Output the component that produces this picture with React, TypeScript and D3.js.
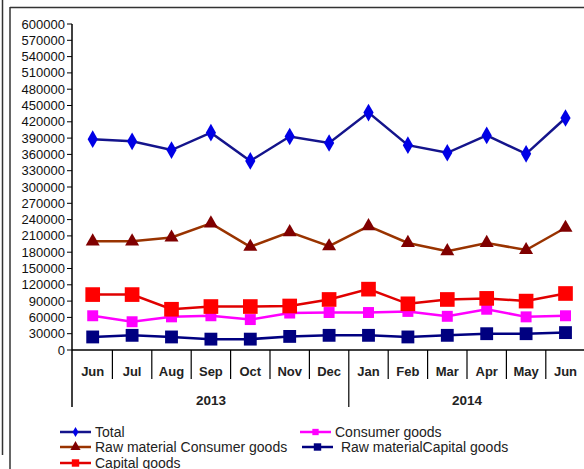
import React from 'react';
import { scaleBand, scaleLinear, line, range, symbol, symbolDiamond, symbolTriangle, symbolSquare } from 'd3';

const months = ['Jun', 'Jul', 'Aug', 'Sep', 'Oct', 'Nov', 'Dec', 'Jan', 'Feb', 'Mar', 'Apr', 'May', 'Jun'];
const years = [
  { label: '2013', from: 0, to: 6 },
  { label: '2014', from: 7, to: 12 },
];
const yTicks = range(0, 600001, 30000);

const total = [388000, 384000, 368000, 400000, 348000, 393000, 381000, 437000, 377000, 363000, 395000, 361000, 427000];
const consumerGoods = [63000, 52000, 61000, 63000, 56000, 68000, 69000, 69000, 71000, 62000, 75000, 61000, 63000];
const rawConsumer = [200000, 200000, 207000, 233000, 190000, 217000, 191000, 228000, 197000, 182000, 197000, 184000, 225000];
const rawCapital = [24000, 27000, 24000, 20000, 20000, 25000, 27000, 27000, 24000, 27000, 30000, 30000, 32000];
const capitalGoods = [102000, 102000, 75000, 80000, 80000, 81000, 93000, 112000, 85000, 93000, 95000, 90000, 104000];

const FONT = '"Liberation Sans", Arial, sans-serif';

// draw order follows Excel's series order (capital goods on top)
const series = [
  { name: 'Total', data: total, stroke: '#14148c', fill: '#0000e6', shape: symbolDiamond, size: 90, legendSize: 30 },
  { name: 'Consumer goods', data: consumerGoods, stroke: '#ff00ff', fill: '#ff00ff', shape: symbolSquare, size: 120, legendSize: 40 },
  { name: 'Raw material Consumer goods', data: rawConsumer, stroke: '#993300', fill: '#800000', shape: symbolTriangle, size: 85, legendSize: 45 },
  { name: ' Raw materialCapital goods', data: rawCapital, stroke: '#000080', fill: '#000080', shape: symbolSquare, size: 165, legendSize: 55 },
  { name: 'Capital goods', data: capitalGoods, stroke: '#e00000', fill: '#ff0000', shape: symbolSquare, size: 215, legendSize: 55 },
];

const legendPos: Record<string, [number, number]> = {
  'Total': [60, 432],
  'Consumer goods': [300, 432],
  'Raw material Consumer goods': [60, 447],
  ' Raw materialCapital goods': [302, 447],
  'Capital goods': [60, 463],
};

export default function App() {
  const x = scaleBand<number>().domain(range(months.length)).range([73, 585.2]).padding(0);
  const y = scaleLinear().domain([0, 600000]).range([350, 24]);
  const cx = (i: number) => (x(i) ?? 0) + x.bandwidth() / 2;

  const path = line<number>()
    .x((_d, i) => cx(i))
    .y(d => y(d));

  const axisX = 72;
  const baseY = y(0);

  return (
    <svg width={584} height={469} style={{ position: 'absolute', left: 0, top: 0, background: '#fff' }}>
      {/* frame */}
      <line x1={2.5} y1={0} x2={2.5} y2={455} stroke="#333" strokeWidth={1.5} />
      <line x1={10} y1={7.5} x2={584} y2={7.5} stroke="#333" strokeWidth={1.5} />
      <line x1={10} y1={7} x2={10} y2={469} stroke="#333" strokeWidth={1.5} />

      {/* y axis */}
      <line x1={axisX} y1={y(600000)} x2={axisX} y2={407} stroke="#000" strokeWidth={1.5} />
      {yTicks.map(t => (
        <g key={t}>
          <line x1={axisX - 5} x2={axisX} y1={y(t)} y2={y(t)} stroke="#000" />
          <text x={65} y={y(t)} dy="0.35em" textAnchor="end" fontFamily={FONT} fontSize={13} fill="#111">
            {t}
          </text>
        </g>
      ))}

      {/* x axis */}
      <line x1={axisX} y1={baseY} x2={584} y2={baseY} stroke="#000" strokeWidth={1.5} />
      {range(1, months.length).map(i => (
        <line key={i} x1={x(i)} x2={x(i)} y1={baseY} y2={i === 7 ? 407 : 379} stroke="#000" strokeWidth={1.2} />
      ))}
      {months.map((m, i) => (
        <text key={i} x={cx(i)} y={371} dy="0.35em" textAnchor="middle" fontFamily={FONT} fontSize={13} fontWeight="bold" fill="#222">
          {m}
        </text>
      ))}
      {years.map(yr => (
        <text
          key={yr.label}
          x={((x(yr.from) ?? 0) + (x(yr.to) ?? 0) + x.bandwidth()) / 2}
          y={400}
          dy="0.35em"
          textAnchor="middle"
          fontFamily={FONT}
          fontSize={13.5}
          fontWeight="bold"
          fill="#222"
        >
          {yr.label}
        </text>
      ))}

      {/* series */}
      {series.map(s => (
        <g key={s.name}>
          <path d={path(s.data) ?? ''} fill="none" stroke={s.stroke} strokeWidth={2.5} />
          {s.data.map((v, i) => (
            <path
              key={i}
              transform={`translate(${cx(i)},${y(v)})`}
              d={symbol().type(s.shape).size(s.size)() ?? ''}
              fill={s.fill}
            />
          ))}
        </g>
      ))}

      {/* legend */}
      {series.map(s => {
        const [lx, ly] = legendPos[s.name];
        return (
          <g key={s.name}>
            <line x1={lx} x2={lx + 31} y1={ly} y2={ly} stroke={s.stroke} strokeWidth={2.5} />
            <path transform={`translate(${lx + 15.5},${ly})`} d={symbol().type(s.shape).size(s.legendSize)() ?? ''} fill={s.fill} />
            <text x={lx + 35} y={ly} dy="0.35em" fontFamily={FONT} fontSize={14} fill="#222" xmlSpace="preserve" style={{ whiteSpace: 'pre' }}>
              {s.name}
            </text>
          </g>
        );
      })}
    </svg>
  );
}
